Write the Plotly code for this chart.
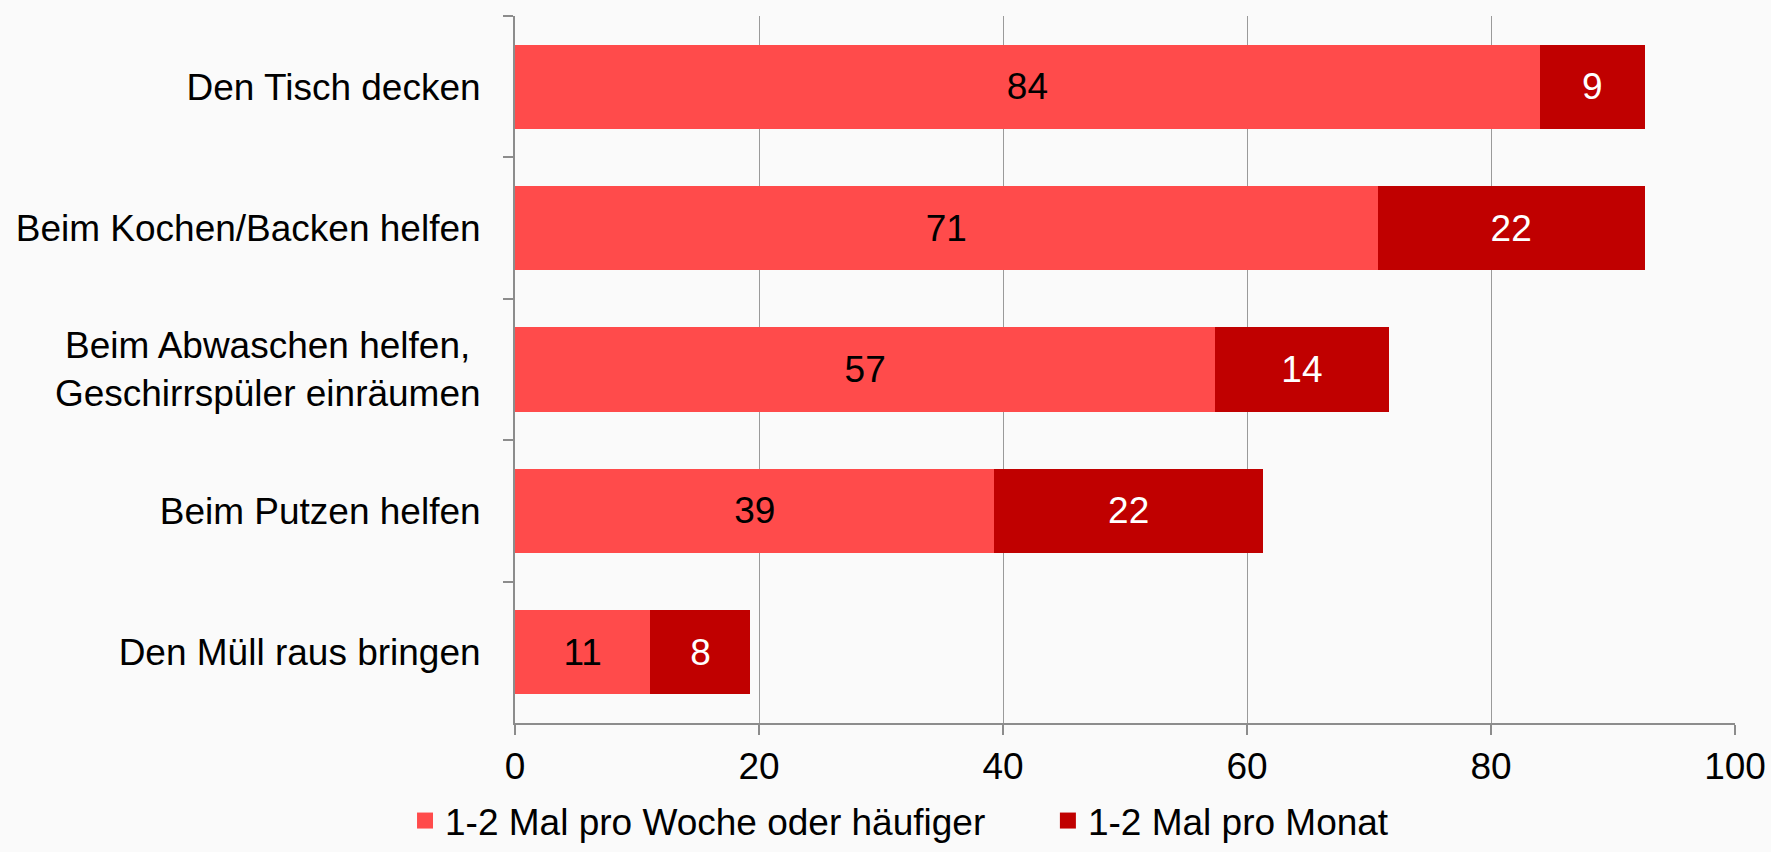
import plotly.graph_objects as go

categories = [
    "Den Tisch decken",
    "Beim Kochen/Backen helfen",
    "Beim Abwaschen helfen,\u00a0<br>Geschirrspüler einräumen",
    "Beim Putzen helfen",
    "Den Müll raus bringen",
]
weekly = [84.0, 70.7, 57.4, 39.3, 11.1]
monthly = [8.6, 21.9, 14.2, 22.0, 8.2]
series_names = ["1-2 Mal pro Woche oder häufiger", "1-2 Mal pro Monat"]
x_ticks = [0, 20, 40, 60, 80, 100]

LIGHT = "#FF4B4B"
DARK = "#C00000"
FONT = "Liberation Sans, Arial, sans-serif"
FS = 37
BG = "#FAFAFA"

fig = go.Figure()
fig.add_trace(go.Bar(
    y=categories, x=weekly, orientation="h", name=series_names[0],
    marker=dict(color=LIGHT, line=dict(width=0)),
    texttemplate="%{x:.0f}", textposition="inside", insidetextanchor="middle",
    textangle=0, constraintext="none",
    textfont=dict(color="black", size=FS, family=FONT),
    showlegend=False,
))
fig.add_trace(go.Bar(
    y=categories, x=monthly, orientation="h", name=series_names[1],
    marker=dict(color=DARK, line=dict(width=0)),
    texttemplate="%{x:.0f}", textposition="inside", insidetextanchor="middle",
    textangle=0, constraintext="none",
    textfont=dict(color="white", size=FS, family=FONT),
    showlegend=False,
))
# legend proxies, one legend each so they can be placed like the original
for name, col, lg in zip(series_names, [LIGHT, DARK], ["legend", "legend2"]):
    fig.add_trace(go.Scatter(
        x=[None], y=[None], mode="markers", name=name,
        marker=dict(symbol="square", size=20, color=col),
        showlegend=True, legend=lg,
    ))

legend_common = dict(
    orientation="h", xref="container", yref="container",
    xanchor="left", y=0.0, yanchor="bottom",
    font=dict(size=FS, family=FONT, color="black"),
    bgcolor="rgba(0,0,0,0)", itemsizing="trace", traceorder="normal",
)

fig.update_layout(
    width=1771, height=852,
    barmode="stack", bargap=0.405,
    paper_bgcolor=BG, plot_bgcolor=BG,
    margin=dict(l=515, r=36, t=16, b=129, autoexpand=False),
    font=dict(family=FONT, size=FS, color="black"),
    showlegend=True,
    legend=dict(x=0.2287, **legend_common),
    legend2=dict(x=0.5917, **legend_common),
    xaxis=dict(
        range=[0, 100], tickvals=x_ticks, ticktext=[str(v) for v in x_ticks],
        showgrid=True, gridcolor="#9A9A9A", gridwidth=1.4,
        showline=True, linecolor="#8C8C8C", linewidth=2,
        ticks="outside", ticklen=10, tickcolor="#8C8C8C", tickwidth=1.5,
        zeroline=False, tickfont=dict(size=FS, family=FONT, color="black"),
        fixedrange=True,
    ),
    yaxis=dict(
        type="category", autorange="reversed",
        showgrid=False, showline=True, linecolor="#8C8C8C", linewidth=2,
        ticks="outside", ticklen=10, tickcolor="#8C8C8C", tickwidth=1.5,
        tickson="boundaries", zeroline=False,
        tickfont=dict(size=FS, family=FONT, color="black"),
        ticklabelstandoff=25,
    ),
)

fig.write_html("out.html")
